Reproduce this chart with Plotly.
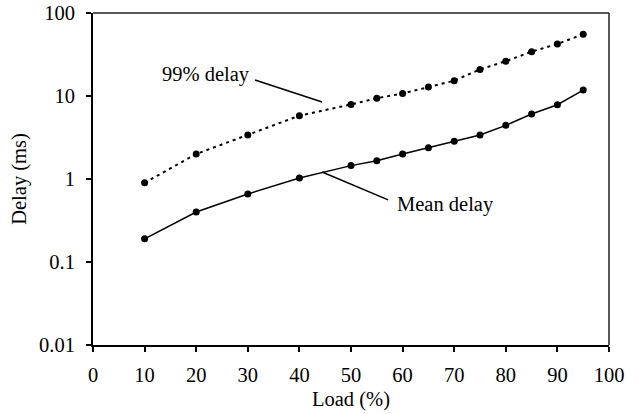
import plotly.graph_objects as go

load = [10, 20, 30, 40, 50, 55, 60, 65, 70, 75, 80, 85, 90, 95]
delay_99 = [0.9, 2.0, 3.4, 5.8, 7.9, 9.4, 10.7, 12.8, 15.3, 20.9, 26.3, 34.2, 42.4, 55.4]
delay_mean = [0.19, 0.40, 0.66, 1.03, 1.45, 1.66, 2.0, 2.38, 2.85, 3.39, 4.43, 6.07, 7.85, 11.8]

x_ticks = [0, 10, 20, 30, 40, 50, 60, 70, 80, 90, 100]
y_ticks = [0.01, 0.1, 1, 10, 100]
y_ticktext = ["0.01", "0.1", "1", "10", "100"]

FONT = "Liberation Serif, Times New Roman, serif"
FS = 20.5

fig = go.Figure()
fig.add_trace(go.Scatter(
    x=load, y=delay_99, mode="lines+markers", name="99% delay",
    line=dict(color="black", width=2, dash="3px,4px"),
    marker=dict(color="black", size=7),
))
fig.add_trace(go.Scatter(
    x=load, y=delay_mean, mode="lines+markers", name="Mean delay",
    line=dict(color="black", width=1.5),
    marker=dict(color="black", size=7),
))

# leader lines (paper coords) and labels
fig.add_shape(type="line", xref="paper", yref="paper",
              x0=0.314, y0=0.798, x1=0.444, y1=0.732,
              line=dict(color="black", width=1.5))
fig.add_shape(type="line", xref="paper", yref="paper",
              x0=0.444, y0=0.521, x1=0.572, y1=0.437,
              line=dict(color="black", width=1.5))
fig.add_annotation(text="99% delay", xref="paper", yref="paper",
                   x=0.308, y=0.814, xanchor="right", yanchor="middle",
                   showarrow=False, font=dict(family=FONT, size=FS, color="black"))
fig.add_annotation(text="Mean delay", xref="paper", yref="paper",
                   x=0.585, y=0.422, xanchor="left", yanchor="middle",
                   showarrow=False, font=dict(family=FONT, size=FS, color="black"))

# thin top/right border
fig.add_shape(type="line", xref="paper", yref="paper", x0=0, y0=1, x1=1, y1=1,
              line=dict(color="#222", width=1.5))
fig.add_shape(type="line", xref="paper", yref="paper", x0=1, y0=0, x1=1, y1=1,
              line=dict(color="#222", width=1.5))

fig.update_layout(
    width=639, height=414,
    margin=dict(l=93, r=30, t=13, b=69),
    paper_bgcolor="white", plot_bgcolor="white",
    showlegend=False,
    font=dict(family=FONT, size=FS, color="black"),
    xaxis=dict(
        range=[0, 100], tickvals=x_ticks, showgrid=False, zeroline=False,
        automargin=False,
        showline=True, linecolor="black", linewidth=2,
        ticks="outside", ticklen=5, tickwidth=1.5, tickcolor="black",
        ticklabelstandoff=5,
        title=dict(text="Load (%)", standoff=7, font=dict(size=FS)),
    ),
    yaxis=dict(
        type="log", range=[-2, 2], tickvals=y_ticks, ticktext=y_ticktext,
        showgrid=False, zeroline=False, automargin=False,
        showline=True, linecolor="black", linewidth=2,
        ticks="outside", ticklen=5, tickwidth=1.5, tickcolor="black",
        ticklabelstandoff=7,
        title=dict(text="Delay (ms)", standoff=7, font=dict(size=FS)),
    ),
)

fig.write_html("out.html")
